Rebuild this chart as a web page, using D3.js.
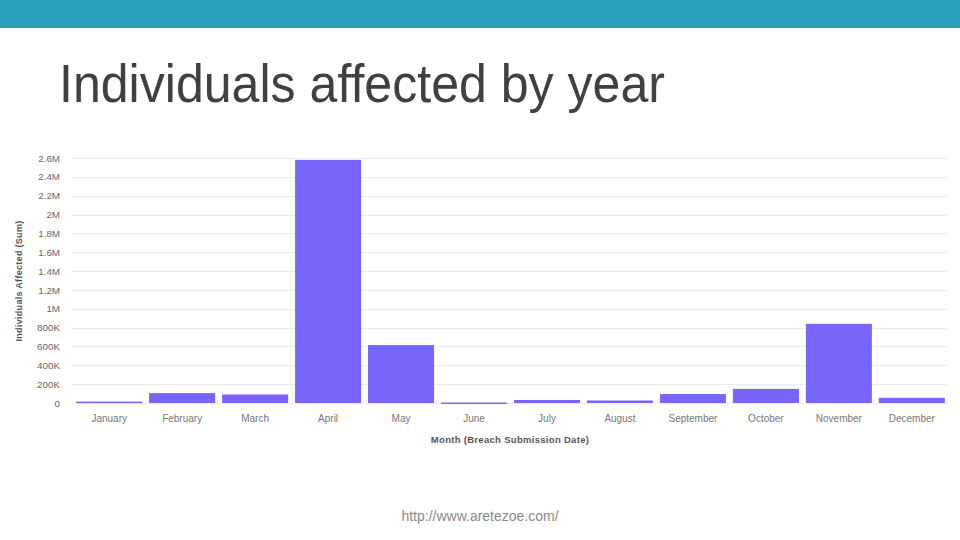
<!DOCTYPE html>
<html>
<head>
<meta charset="utf-8">
<script src="https://cdn.jsdelivr.net/npm/d3@7"></script>
<style>
  html, body { margin: 0; padding: 0; background: #fff; }
  svg { display: block; font-family: "Liberation Sans", Arial, sans-serif; }
</style>
</head>
<body>
<svg id="chart" width="960" height="540"></svg>
<script>
const months = ["January","February","March","April","May","June","July","August","September","October","November","December"];
const individuals = [15000, 105000, 90000, 2580000, 615000, 5000, 32000, 27000, 95000, 150000, 840000, 55000];
const yTicks = [0, 200000, 400000, 600000, 800000, 1000000, 1200000, 1400000, 1600000, 1800000, 2000000, 2200000, 2400000, 2600000];
const titleText = "Individuals affected by year";
const yTitle = "Individuals Affected (Sum)";
const xTitle = "Month (Breach Submission Date)";
const footer = "http://www.aretezoe.com/";

const svg = d3.select("#chart");

// header band
svg.append("rect").attr("x", 0).attr("y", 0).attr("width", 960).attr("height", 28).attr("fill", "#2ca1be");

// title
svg.append("text").attr("x", 59).attr("y", 102)
  .attr("font-size", 54).attr("fill", "#404040")
  .attr("textLength", 606).attr("lengthAdjust", "spacingAndGlyphs")
  .text(titleText);

const x = d3.scaleBand().domain(months).range([72.5, 948.5]).paddingInner(0.095).paddingOuter(0.05);
const y = d3.scaleLinear().domain([0, 2600000]).range([403, 158]);

const fmt = v => v === 0 ? "0" : v >= 1e6 ? (v / 1e6) + "M" : (v / 1e3) + "K";

// gridlines
svg.append("g").selectAll("line").data(yTicks).join("line")
  .attr("x1", 72).attr("x2", 948)
  .attr("y1", d => Math.round(y(d)) + 0.5).attr("y2", d => Math.round(y(d)) + 0.5)
  .attr("stroke", "#e9edf0").attr("stroke-width", 1);

// y axis
const yAxis = d3.axisLeft(y).tickValues(yTicks).tickFormat(fmt).tickSize(0).tickPadding(0);
const gy = svg.append("g").attr("transform", "translate(60,0)").call(yAxis);
gy.select(".domain").remove();
gy.selectAll("text").attr("font-size", 9.8).attr("fill", "#666").attr("font-family", "'Liberation Sans', Arial, sans-serif");

// x axis
const xAxis = d3.axisBottom(x).tickSize(0).tickPadding(0);
const gx = svg.append("g").attr("transform", "translate(0,415)").call(xAxis);
gx.select(".domain").remove();
gx.selectAll("text").attr("font-size", 10).attr("fill", "#777").attr("font-family", "'Liberation Sans', Arial, sans-serif");

// bars
svg.append("g").selectAll("rect").data(months).join("rect")
  .attr("x", d => x(d))
  .attr("width", x.bandwidth())
  .attr("y", (d, i) => y(individuals[i]))
  .attr("height", (d, i) => Math.max(1.5, y(0) - y(individuals[i])))
  .attr("fill", "#7866fb");

// axis titles
svg.append("text")
  .attr("transform", "translate(22,281) rotate(-90)")
  .attr("text-anchor", "middle").attr("font-size", 9).attr("font-weight", "bold")
  .attr("fill", "#555").attr("letter-spacing", 0.3)
  .text(yTitle);

svg.append("text").attr("x", 510).attr("y", 443)
  .attr("text-anchor", "middle").attr("font-size", 9.5).attr("font-weight", "bold")
  .attr("fill", "#555").attr("letter-spacing", 0.3)
  .text(xTitle);

// footer
svg.append("text").attr("x", 480).attr("y", 521)
  .attr("text-anchor", "middle").attr("font-size", 14).attr("fill", "#8a8a8a")
  .text(footer);
</script>
</body>
</html>
